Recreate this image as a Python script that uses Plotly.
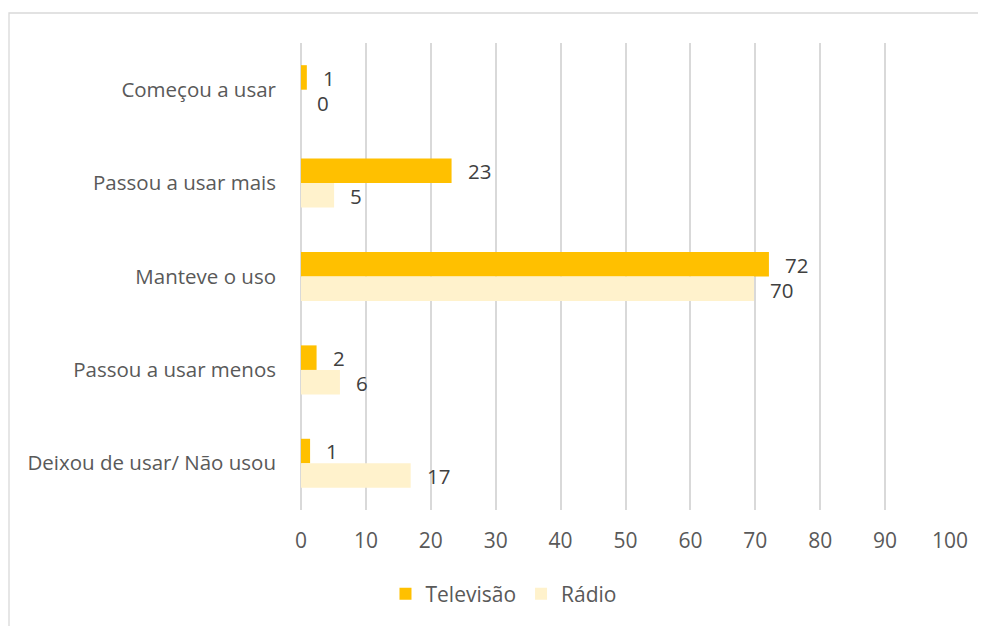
import plotly.graph_objects as go

categories = ["Começou a usar", "Passou a usar mais", "Manteve o uso",
              "Passou a usar menos", "Deixou de usar/ Não usou"]
tv_values = [0.9, 23.2, 72.1, 2.4, 1.4]
radio_values = [0.0, 5.1, 69.8, 6.0, 16.9]
tv_labels = ["1", "23", "72", "2", "1"]
radio_labels = ["0", "5", "70", "6", "17"]
x_ticks = [0, 10, 20, 30, 40, 50, 60, 70, 80, 90, 100]

FONT = "Open Sans"
TXT = "#595959"
FS = 20.5

fig = go.Figure()
fig.add_trace(go.Bar(name="Televisão", y=categories, x=tv_values, orientation="h",
                     marker=dict(color="#FFC000", line=dict(width=0))))
fig.add_trace(go.Bar(name="Rádio", y=categories, x=radio_values, orientation="h",
                     marker=dict(color="#FFF2CC", line=dict(width=0))))

annotations = []
for cat, v, lab in zip(categories, tv_values, tv_labels):
    annotations.append(dict(x=v, y=cat, xref="x", yref="y", text=lab, showarrow=False,
                            xanchor="left", yanchor="middle", xshift=14, yshift=12,
                            font=dict(family=FONT, size=FS, color="#404040")))
for cat, v, lab in zip(categories, radio_values, radio_labels):
    annotations.append(dict(x=v, y=cat, xref="x", yref="y", text=lab, showarrow=False,
                            xanchor="left", yanchor="middle", xshift=14, yshift=-13,
                            font=dict(family=FONT, size=FS, color="#404040")))

fig.update_layout(
    width=978, height=618,
    margin=dict(l=293, r=36, t=35, b=116),
    paper_bgcolor="white", plot_bgcolor="white",
    barmode="group", bargap=0.475, bargroupgap=0,
    font=dict(family=FONT, size=FS, color=TXT),
    showlegend=True,
    legend=dict(orientation="h", x=0.312, xanchor="center", y=-0.18, yanchor="middle",
                font=dict(family=FONT, size=21, color=TXT), traceorder="normal",
                itemwidth=30),
    annotations=annotations,
    shapes=[dict(type="rect", xref="paper", yref="paper",
                 x0=(9 - 301) / 649, x1=1.2, y0=-0.4, y1=(510 - 13) / 467,
                 line=dict(color="#D9D9D9", width=1.3), fillcolor="rgba(0,0,0,0)",
                 layer="below")],
    xaxis=dict(range=[0, 100], tickvals=x_ticks, showgrid=True, gridcolor="#D9D9D9",
               gridwidth=1.5, zeroline=True, zerolinecolor="#D9D9D9", zerolinewidth=1.5,
               showline=False, ticks="", ticklabelstandoff=16,
               tickfont=dict(family=FONT, size=21, color=TXT)),
    yaxis=dict(autorange="reversed", showgrid=False, zeroline=False, showline=False,
               ticks="", ticklabelstandoff=24,
               tickfont=dict(family=FONT, size=FS, color=TXT)),
)

fig.write_html("out.html")
